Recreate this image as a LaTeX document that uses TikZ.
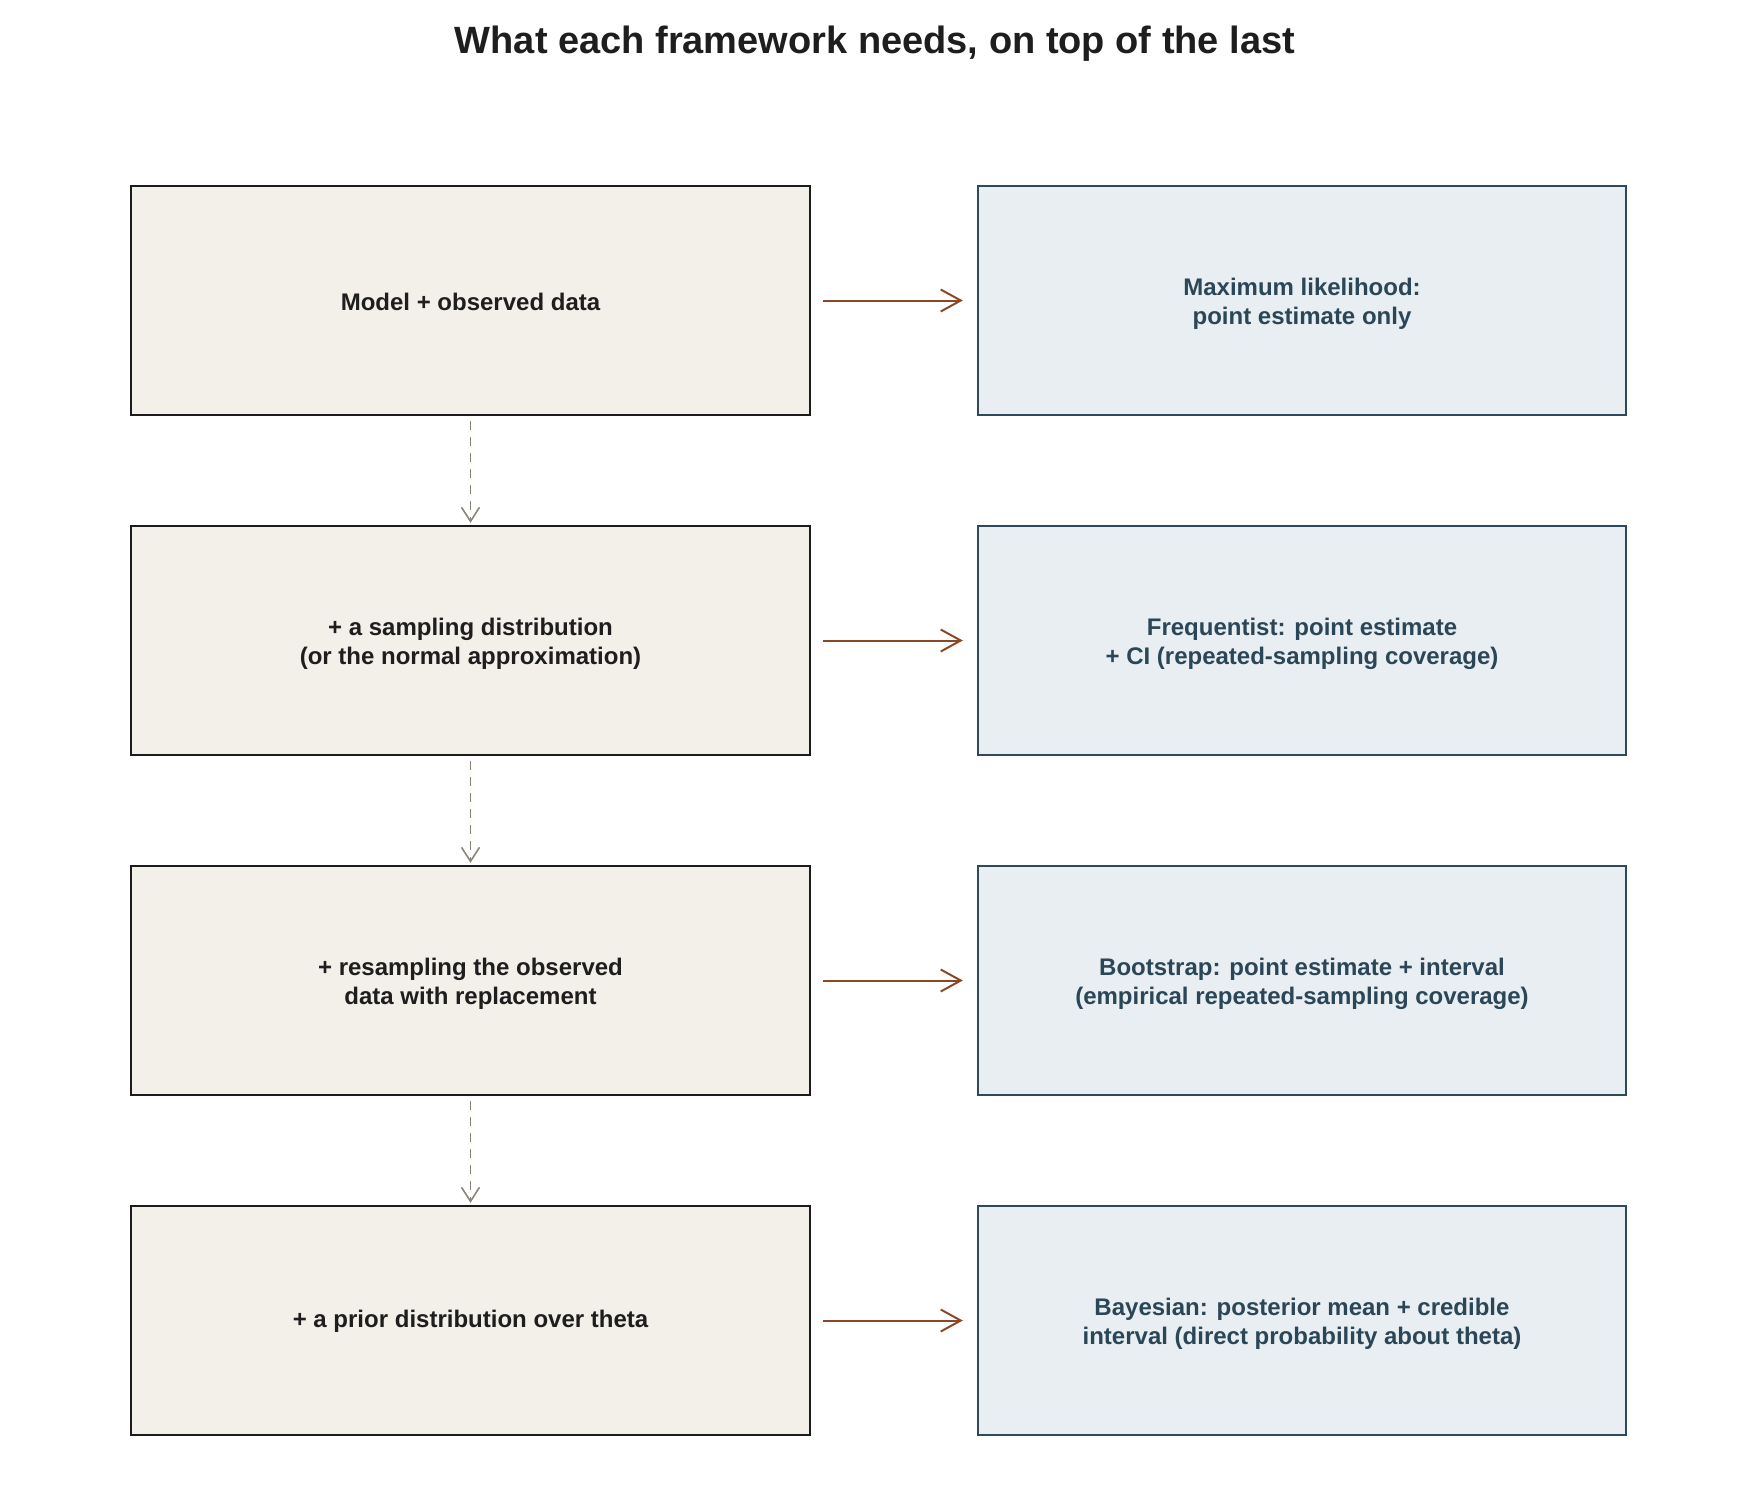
\documentclass[tikz,border=0pt]{standalone}
\usepackage{fontspec}
\setmainfont{Liberation Sans}
\usetikzlibrary{arrows.meta}
\definecolor{lfill}{HTML}{F3EFE9}
\definecolor{ldraw}{HTML}{1C1C1C}
\definecolor{rfill}{HTML}{E8EEF1}
\definecolor{rdraw}{HTML}{2E4A5A}
\definecolor{rtext}{HTML}{2B4657}
\definecolor{ltext}{HTML}{1E1E1E}
\definecolor{arrowc}{HTML}{8B4828}
\definecolor{dashc}{HTML}{8A8576}
\begin{document}
\begin{tikzpicture}[x=0.5pt,y=-0.5pt,
  lbox/.style={draw=ldraw,fill=lfill,line width=1.2pt,minimum width=339.5pt,minimum height=114.5pt,inner sep=0pt},
  rbox/.style={draw=rdraw,fill=rfill,line width=1.2pt,minimum width=324pt,minimum height=114.5pt,inner sep=0pt},
  ltxt/.style={inner sep=0pt,align=center,text=ltext,font=\bfseries\fontsize{12}{14.3}\selectfont},
  rtxt/.style={inner sep=0pt,align=center,text=rtext,font=\bfseries\fontsize{12}{14.3}\selectfont},
  flow/.style={draw=arrowc,line width=1pt,-{Straight Barb[length=10pt,width=11pt,line width=1pt]},shorten <=6pt,shorten >=7pt},
  stack/.style={draw=dashc,line width=0.8pt,dash pattern=on 4.5pt off 3.5pt,-{Straight Barb[length=7pt,width=9pt,line width=0.8pt]},shorten <=2.5pt,shorten >=1pt}]
\useasboundingbox (0,0) rectangle (1750,1500);
\node[anchor=base,font=\bfseries\fontsize{19}{23}\selectfont,text=ltext] (title) at (875,53) {What each framework needs, on top of the last};
\node[lbox] (l1) at (470.5,300.5) {};
\node[lbox] (l2) at (470.5,640.5) {};
\node[lbox] (l3) at (470.5,980.5) {};
\node[lbox] (l4) at (470.5,1320.5) {};
\node[rbox] (r1) at (1302,300.5) {};
\node[rbox] (r2) at (1302,640.5) {};
\node[rbox] (r3) at (1302,980.5) {};
\node[rbox] (r4) at (1302,1320.5) {};
\node[ltxt] (l1t) at ([yshift=-0.5pt]l1.center) {Model + observed data};
\node[ltxt] (l2t) at ([yshift=-1.7pt]l2.center) {+ a sampling distribution\\(or the normal approximation)};
\node[ltxt] (l3t) at ([yshift=-1.7pt]l3.center) {+ resampling the observed\\data with replacement};
\node[ltxt] (l4t) at ([yshift=-0.5pt]l4.center) {+ a prior distribution over theta};
\node[rtxt] (r1t) at ([yshift=-1.7pt]r1.center) {Maximum likelihood:\\point estimate only};
\node[rtxt] (r2t) at ([yshift=-1.7pt]r2.center) {Frequentist: point estimate\\+ CI (repeated-sampling coverage)};
\node[rtxt] (r3t) at ([yshift=-1.7pt]r3.center) {Bootstrap: point estimate + interval\\(empirical repeated-sampling coverage)};
\node[rtxt] (r4t) at ([yshift=-1.7pt]r4.center) {Bayesian: posterior mean + credible\\interval (direct probability about theta)};
\foreach \i in {1,2,3,4} \draw[flow] (l\i.east) -- (r\i.west);
\draw[stack] (l1.south) -- (l2.north);
\draw[stack] (l2.south) -- (l3.north);
\draw[stack] (l3.south) -- (l4.north);
\end{tikzpicture}
\end{document}
